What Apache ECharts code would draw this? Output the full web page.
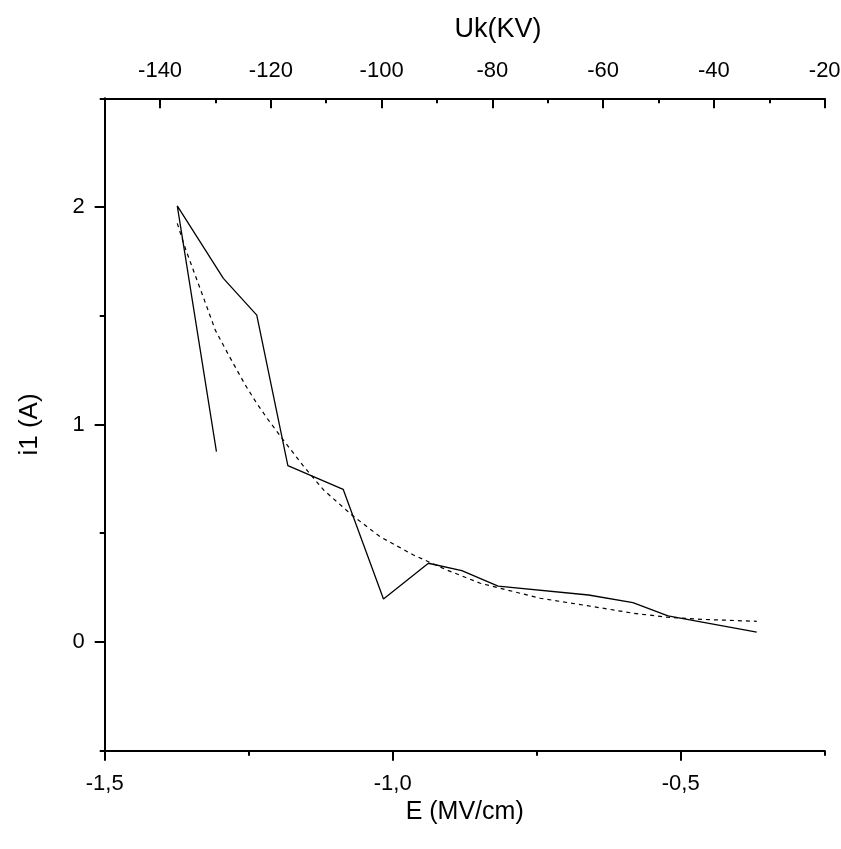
<!DOCTYPE html>
<html>
<head>
<meta charset="utf-8">
<script src="https://cdn.jsdelivr.net/npm/echarts@6/dist/echarts.min.js"></script>
<style>
html,body{margin:0;padding:0;background:#fff;}
#chart{width:841px;height:849px;}
</style>
</head>
<body>
<div id="chart"></div>
<script>
// Measured curve (solid), in drawing order
const eField = [-1.306, -1.374, -1.294, -1.236, -1.182, -1.086, -1.016, -0.938, -0.880, -0.817, -0.660, -0.583, -0.522, -0.368];
const current = [0.875, 2.005, 1.672, 1.503, 0.811, 0.702, 0.198, 0.362, 0.328, 0.257, 0.216, 0.181, 0.120, 0.045];

// Fitted curve (dashed)
const fitE = [-1.374, -1.361, -1.343, -1.326, -1.308, -1.285, -1.256, -1.236, -1.216, -1.190, -1.155, -1.120, -1.071, -1.022, -0.964, -0.906, -0.848, -0.744, -0.660, -0.582, -0.524, -0.464, -0.368];
const fitI = [1.925, 1.817, 1.687, 1.565, 1.434, 1.320, 1.182, 1.097, 1.021, 0.929, 0.809, 0.699, 0.584, 0.484, 0.400, 0.331, 0.270, 0.201, 0.166, 0.132, 0.114, 0.104, 0.095];

// Axis ticks
const eTicks = [-1.5, -1.0, -0.5];
const eMinorTicks = [-1.25, -0.75, -0.25];
const uTicks = [-140, -120, -100, -80, -60, -40, -20];
const uMinorTicks = [-150, -130, -110, -90, -70, -50, -30];
const iTicks = [0, 1, 2];
const iMinorTicks = [-0.5, 0.5, 1.5, 2.5];

const FONT = "'Liberation Sans Narrow', 'Arial Narrow', 'Liberation Sans', Arial, sans-serif";
const AX = {color: '#000', width: 2};

const chart = echarts.init(document.getElementById('chart'), null, {renderer: 'canvas'});
chart.setOption({
  animation: false,
  backgroundColor: '#fff',
  grid: {left: 104.7, right: 16.3, top: 98.3, bottom: 98.3, containLabel: false, outerBoundsMode: 'none'},
  graphic: [{
    type: 'text', x: 498, y: 30,
    style: {text: 'Uk(KV)', fill: '#000', font: "27px " + FONT, align: 'center', verticalAlign: 'middle'}
  }],
  xAxis: [
    {
      type: 'value', position: 'bottom', min: -1.5, max: -0.25,
      axisLine: {show: true, onZero: false, lineStyle: AX},
      axisTick: {show: true, customValues: eTicks, length: 10, lineStyle: AX},
      axisLabel: {show: true, customValues: eTicks, color: '#000', fontFamily: FONT, fontSize: 22, margin: 22,
        formatter: v => v.toFixed(1).replace('.', ',')},
      splitLine: {show: false},
      name: 'E (MV/cm)', nameLocation: 'middle', nameGap: 34,
      nameTextStyle: {color: '#000', fontFamily: FONT, fontSize: 25}
    },
    {
      type: 'value', position: 'bottom', min: -1.5, max: -0.25,
      axisLine: {show: false, onZero: false},
      axisTick: {show: true, customValues: eMinorTicks, length: 5, lineStyle: AX},
      axisLabel: {show: false}, splitLine: {show: false}
    },
    {
      type: 'value', position: 'top', min: -150, max: -20,
      axisLine: {show: true, onZero: false, lineStyle: AX},
      axisTick: {show: true, inside: true, customValues: uTicks, length: 10, lineStyle: AX},
      axisLabel: {show: true, customValues: uTicks, color: '#000', fontFamily: FONT, fontSize: 22, margin: 16},
      splitLine: {show: false}
    },
    {
      type: 'value', position: 'top', min: -150, max: -20,
      axisLine: {show: false, onZero: false},
      axisTick: {show: true, inside: true, customValues: uMinorTicks, length: 5, lineStyle: AX},
      axisLabel: {show: false}, splitLine: {show: false}
    }
  ],
  yAxis: [
    {
      type: 'value', position: 'left', min: -0.5, max: 2.5,
      axisLine: {show: true, onZero: false, lineStyle: AX},
      axisTick: {show: true, customValues: iTicks, length: 10, lineStyle: AX},
      axisLabel: {show: true, customValues: iTicks, color: '#000', fontFamily: FONT, fontSize: 22, margin: 20},
      splitLine: {show: false},
      name: 'i1 (A)', nameLocation: 'middle', nameGap: 62, nameRotate: 90,
      nameTextStyle: {color: '#000', fontFamily: FONT, fontSize: 26}
    },
    {
      type: 'value', position: 'left', min: -0.5, max: 2.5,
      axisLine: {show: false, onZero: false},
      axisTick: {show: true, customValues: iMinorTicks, length: 5, lineStyle: AX},
      axisLabel: {show: false}, splitLine: {show: false}
    }
  ],
  series: [
    {
      type: 'line', xAxisIndex: 0, yAxisIndex: 0,
      data: eField.map((e, i) => [e, current[i]]),
      showSymbol: false, symbol: 'none', smooth: false,
      lineStyle: {color: '#000', width: 1.3, type: 'solid'}
    },
    {
      type: 'line', xAxisIndex: 0, yAxisIndex: 0,
      data: fitE.map((e, i) => [e, fitI[i]]),
      showSymbol: false, symbol: 'none', smooth: false,
      lineStyle: {color: '#000', width: 1.2, type: [4, 4]}
    }
  ]
});
</script>
</body>
</html>
